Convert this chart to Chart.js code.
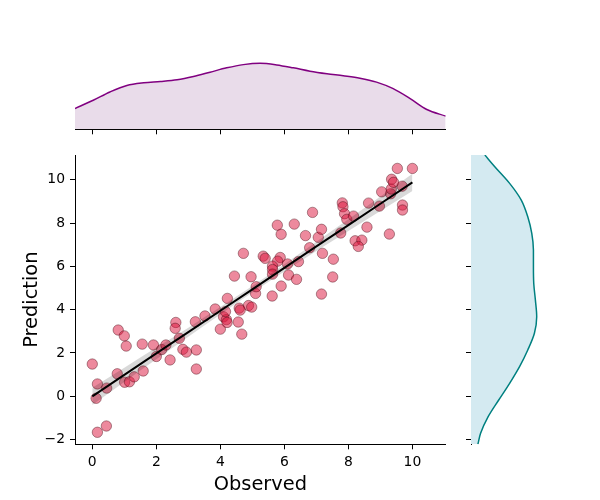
<!DOCTYPE html>
<html>
<head>
<meta charset="utf-8">
<title>Observed vs Prediction</title>
<script src="https://cdn.jsdelivr.net/npm/chart.js@4.4.1/dist/chart.umd.min.js"></script>
<style>
    body { margin: 0; background: #fff; }
    #wrap { position: relative; width: 600px; height: 500px; }
    #wrap canvas { position: absolute; left: 0; top: 0; }
</style>
</head>
<body>
<div id="wrap">
    <canvas id="mainChart" width="600" height="500"></canvas>
    <canvas id="topChart" width="600" height="500"></canvas>
    <canvas id="rightChart" width="600" height="500"></canvas>
</div>
<script>
// Scatter points
const obsX = [0.00, 0.16, 0.12, 0.45, 0.16, 0.44, 0.81, 1.00, 1.06, 0.78, 1.01, 1.16, 1.31, 1.59, 1.56, 1.91, 2.00, 2.17, 2.30, 2.43,
    2.61, 2.59, 2.72, 2.83, 2.94, 3.25, 3.25, 3.22, 3.52, 3.84, 4.22, 4.00, 4.10, 4.19, 4.21, 4.16, 4.56, 4.59, 4.67, 4.88,
    4.98, 5.10, 5.12, 4.44, 4.96, 4.72, 5.34, 5.40, 5.87, 5.79, 5.63, 5.63, 5.63, 6.10, 6.44, 6.13, 6.38, 5.90, 5.62, 5.78,
    5.90, 6.31, 6.66, 6.79, 6.88, 7.06, 7.16, 7.19, 7.53, 7.51, 7.16, 7.76, 7.81, 7.83, 7.88, 7.95, 8.16, 8.21, 8.42, 8.31,
    8.58, 8.63, 8.97, 9.04, 9.28, 9.32, 9.34, 9.35, 9.41, 9.68, 9.69, 9.69, 9.53, 10.00, 4.62];
const predY = [1.49, 0.57, -0.09, 0.38, -1.66, -1.37, 3.06, 2.79, 2.32, 1.04, 0.65, 0.67, 0.90, 1.17, 2.41, 2.37, 1.84, 2.16, 2.37, 1.68,
    3.41, 3.14, 2.68, 2.17, 2.04, 2.14, 1.26, 3.44, 3.71, 4.03, 4.52, 3.10, 3.67, 3.54, 3.41, 3.91, 3.43, 4.07, 2.87, 4.19,
    4.12, 4.75, 5.06, 5.55, 5.52, 6.60, 6.47, 6.37, 6.41, 6.24, 6.01, 5.85, 5.64, 6.11, 6.22, 5.60, 5.40, 5.09, 4.63, 7.90,
    7.48, 7.95, 7.42, 6.86, 8.49, 7.34, 7.71, 6.60, 6.33, 5.51, 4.72, 7.54, 8.93, 8.75, 8.43, 8.17, 8.32, 7.18, 7.21, 6.92,
    7.81, 8.92, 8.78, 9.44, 7.49, 9.35, 9.57, 10.02, 9.88, 9.70, 8.83, 8.60, 10.52, 10.52, 3.98];

// Regression line and its confidence band
const fitX = [0, 1, 2, 3, 4, 5, 6, 7, 8, 9, 10];
const fitY = [0.00, 0.99, 1.98, 2.96, 3.95, 4.94, 5.93, 6.92, 7.90, 8.89, 9.88];
const ciHigh = [0.40, 1.32, 2.25, 3.17, 4.12, 5.09, 6.10, 7.13, 8.17, 9.22, 10.28];
const ciLow = [-0.40, 0.66, 1.71, 2.75, 3.78, 4.79, 5.76, 6.71, 7.63, 8.56, 9.48];

// Marginal densities (relative height)
const topGrid = [-0.54, 0.03, 0.55, 1.08, 1.61, 2.13, 2.65, 3.16, 3.68, 4.20, 4.72, 5.24, 5.76, 6.28, 6.80, 7.33, 7.84, 8.36, 8.88, 9.40, 9.93, 10.45, 11.04];
const topDens = [0.315, 0.44, 0.565, 0.665, 0.706, 0.725, 0.751, 0.80, 0.865, 0.931, 0.98, 1.0, 0.976, 0.931, 0.88, 0.841, 0.811, 0.775, 0.715, 0.616, 0.465, 0.30, 0.20];
const rightGrid = [-2.215, -1.71, -0.94, -0.17, 0.60, 1.37, 2.14, 2.91, 3.67, 4.44, 5.21, 5.98, 6.75, 7.52, 8.29, 9.06, 9.83, 10.60, 11.14];
const rightDens = [0.105, 0.146, 0.261, 0.422, 0.588, 0.739, 0.864, 0.965, 1.0, 0.98, 0.955, 0.95, 0.95, 0.925, 0.864, 0.765, 0.588, 0.362, 0.211];

// Axis ticks and limits
const xTicks = [0, 2, 4, 6, 8, 10];
const yTicks = [-2, 0, 2, 4, 6, 8, 10];
const xMin = -0.54, xMax = 11.04;
const yMin = -2.215, yMax = 11.14;

const FONT = 'DejaVu Sans';
Chart.defaults.font.family = FONT;
Chart.defaults.color = '#000';

const pts = (xs, ys) => xs.map((x, i) => ({ x: x, y: ys[i] }));
const fixTicks = (vals) => (scale) => { scale.ticks = vals.map(v => ({ value: v })); };
const minus = (v) => String(v).replace('-', '\u2212');

const baseOpts = {
    responsive: false,
    animation: false,
    devicePixelRatio: 1,
    events: [],
    plugins: { legend: { display: false }, tooltip: { enabled: false } }
};

function axisLine() {
    return {
        grid: { drawOnChartArea: false, drawTicks: true, tickLength: 5, color: '#000', lineWidth: 1 },
        border: { display: true, color: '#000', width: 1 }
    };
}

/**
 * Main scatter with regression line
 */
new Chart(document.getElementById('mainChart'), {
    type: 'scatter',
    data: {
        datasets: [
            {
                type: 'line', showLine: true,
                data: pts(fitX, ciHigh),
                borderWidth: 0, pointRadius: 0,
                cubicInterpolationMode: 'monotone',
                backgroundColor: 'rgba(0,0,0,0.15)',
                fill: '+1', order: 1
            },
            {
                type: 'line', showLine: true,
                data: pts(fitX, ciLow),
                borderWidth: 0, pointRadius: 0,
                cubicInterpolationMode: 'monotone',
                fill: false, order: 1
            },
            {
                type: 'line', showLine: true,
                data: pts(fitX, fitY),
                borderColor: '#000', borderWidth: 2, pointRadius: 0,
                fill: false, order: 0
            },
            {
                data: pts(obsX, predY),
                backgroundColor: 'rgba(220,20,60,0.5)',
                borderColor: 'rgba(60,0,10,0.5)',
                borderWidth: 0.8,
                pointRadius: 5.2,
                order: 2
            }
        ]
    },
    options: {
        ...baseOpts,
        layout: { padding: { left: 0, top: 155, right: 154.3, bottom: 0 } },
        scales: {
            x: {
                type: 'linear', min: xMin, max: xMax,
                afterBuildTicks: fixTicks(xTicks),
                afterFit: (s) => { s.height = 55.7; },
                ...axisLine(),
                ticks: { font: { size: 13.9 }, padding: 5, maxRotation: 0, autoSkip: false },
                title: { display: true, text: 'Observed', font: { size: 19.4 }, padding: { top: 0, bottom: 3 } }
            },
            y: {
                type: 'linear', min: yMin, max: yMax,
                afterBuildTicks: fixTicks(yTicks),
                afterFit: (s) => { s.width = 75; },
                ...axisLine(),
                ticks: { font: { size: 13.9 }, padding: 5, autoSkip: false, callback: (v) => minus(v) },
                title: { display: true, text: 'Prediction', font: { size: 19.4 }, padding: { top: 20, bottom: 0 } }
            }
        }
    }
});

/**
 * Top marginal density (Observed)
 */
new Chart(document.getElementById('topChart'), {
    type: 'scatter',
    data: {
        datasets: [{
            type: 'line', showLine: true,
            data: pts(topGrid, topDens),
            borderColor: '#800080', borderWidth: 1.5, pointRadius: 0,
            cubicInterpolationMode: 'monotone',
            backgroundColor: 'rgb(233,220,234)',
            fill: 'origin'
        }]
    },
    options: {
        ...baseOpts,
        layout: { padding: { left: 75, top: 60, right: 154.3, bottom: 360.7 } },
        scales: {
            x: {
                type: 'linear', min: xMin, max: xMax,
                afterBuildTicks: fixTicks(xTicks),
                afterFit: (s) => { s.height = 10; },
                ...axisLine(),
                ticks: { display: false }
            },
            y: { type: 'linear', min: 0, max: 1.05, display: false }
        }
    }
});

/**
 * Right marginal density (Prediction)
 */
new Chart(document.getElementById('rightChart'), {
    type: 'line',
    data: {
        datasets: [{
            data: pts(rightDens, rightGrid),
            borderColor: '#008080', borderWidth: 1.5, pointRadius: 0,
            cubicInterpolationMode: 'monotone',
            backgroundColor: 'rgb(212,234,241)',
            fill: 'origin'
        }]
    },
    options: {
        ...baseOpts,
        indexAxis: 'y',
        layout: { padding: { left: 461, top: 155, right: 60, bottom: 55.7 } },
        scales: {
            x: { type: 'linear', min: 0, max: 1.05, display: false },
            y: {
                type: 'linear', min: yMin, max: yMax,
                afterBuildTicks: fixTicks(yTicks),
                afterFit: (s) => { s.width = 10; },
                ...axisLine(),
                ticks: { display: false }
            }
        }
    }
});
</script>
</body>
</html>
